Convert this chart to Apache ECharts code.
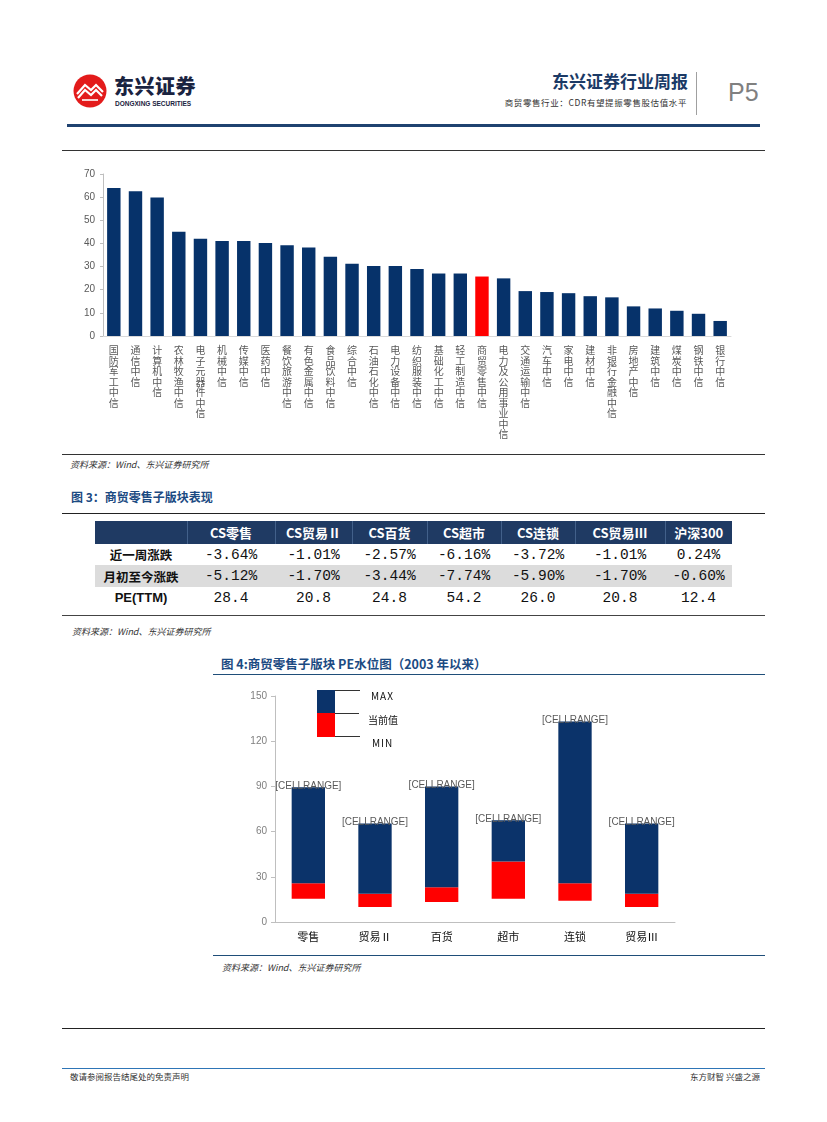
<!DOCTYPE html>
<html><head><meta charset="utf-8">
<script src="https://cdn.jsdelivr.net/npm/echarts/dist/echarts.min.js"></script>
<style>
body{margin:0;width:827px;height:1122px;position:relative;background:#fff;font-family:"Noto Sans CJK SC",sans-serif;overflow:hidden;}
.a{position:absolute;white-space:nowrap;}
.src{position:absolute;font-size:9px;font-style:italic;color:#333;white-space:nowrap;}
.ttl{position:absolute;font-weight:bold;color:#1b4a82;white-space:nowrap;}
table{position:absolute;left:95px;top:521px;border-collapse:collapse;table-layout:fixed;}
td{padding:0;text-align:center;white-space:nowrap;}
tr.h td{background:#1f3a63;color:#fff;font-weight:bold;font-size:13px;height:23px;border-left:1px solid #42608a;}
tr.h td:first-child{border-left:none;}
tr.d td{font-family:"Liberation Mono",monospace;font-size:14.5px;color:#111;height:21px;}
tr.d td.lab{font-family:"Noto Sans CJK SC",sans-serif;font-weight:bold;font-size:12.5px;}
tr.g td{background:#dcdcdc;height:22px;}
</style></head>
<body>
<!-- header -->
<svg class="a" style="left:72px;top:73px" width="36" height="36" viewBox="0 0 36 36">
<circle cx="18" cy="18" r="16.5" fill="#e31b1b"/>
<path d="M5 21 L13 12 L19 17 L24 12 L31 19" stroke="#fff" stroke-width="2.2" fill="none"/>
<path d="M6 25 L13 17 L19 22 L24 17 L30 23" stroke="#fff" stroke-width="2.2" fill="none"/>
<path d="M10 27 L26 27" stroke="#fff" stroke-width="1.6"/>
</svg>
<div class="a" style="left:114px;top:74px;font-size:20px;font-weight:900;color:#1a2340;letter-spacing:0.5px;line-height:24px">东兴证券</div>
<div class="a" style="left:115px;top:100px;font-size:6.5px;font-weight:bold;color:#1a2340;font-family:'Liberation Sans',Arial,sans-serif;line-height:8px">DONGXING SECURITIES</div>
<div class="a" style="right:139px;top:70px;font-size:17px;font-weight:bold;color:#1b3a66;line-height:21px">东兴证券行业周报</div>
<div class="a" style="right:140px;top:96px;font-size:8.5px;color:#333;letter-spacing:0.6px;line-height:12px">商贸零售行业：CDR有望提振零售股估值水平</div>
<div class="a" style="left:696px;top:72px;height:43px;border-left:1px solid #a0a0a0"></div>
<div class="a" style="left:728px;top:77px;font-size:25px;color:#808080;font-family:'Liberation Sans',Arial,sans-serif;line-height:30px">P5</div>
<div class="a" style="left:67px;top:124px;width:693px;height:3px;background:#1f4270"></div>

<div class="a" style="left:62px;top:150px;width:703px;border-top:1px solid #333"></div>
<div id="c1" class="a" style="left:62px;top:160px;width:703px;height:294px"></div>
<div class="a" style="left:62px;top:454px;width:703px;border-top:1px solid #333"></div>
<div class="src" style="left:70px;top:458px">资料来源：Wind、东兴证券研究所</div>

<div class="ttl" style="left:71px;top:488px;font-size:12px">图 3：商贸零售子版块表现</div>
<div class="a" style="left:62px;top:513px;width:703px;border-top:1.5px solid #222"></div>
<table id="tb"></table>
<div class="a" style="left:62px;top:615px;width:703px;border-top:1.5px solid #444"></div>
<div class="src" style="left:72px;top:625px">资料来源：Wind、东兴证券研究所</div>

<div class="ttl" style="left:221px;top:654px;font-size:12.5px">图 4:商贸零售子版块 PE水位图（2003 年以来）</div>
<div class="a" style="left:213px;top:674px;width:552px;border-top:1px solid #1f4e79"></div>
<div id="c2" class="a" style="left:213px;top:681px;width:552px;height:274px"></div>
<!-- legend of chart 4 -->
<div class="a" style="left:317px;top:690px;width:18px;height:23px;background:#0b336a"></div>
<div class="a" style="left:317px;top:713px;width:18px;height:24px;background:#ff0000"></div>
<div class="a" style="left:335px;top:690px;width:25px;border-top:1px solid #333"></div>
<div class="a" style="left:335px;top:713px;width:24px;border-top:1px solid #333"></div>
<div class="a" style="left:335px;top:736px;width:25px;border-top:1px solid #333"></div>
<div class="a" style="left:371px;top:689px;font-size:10px;color:#111;letter-spacing:1px;line-height:13px">MAX</div>
<div class="a" style="left:368px;top:713px;font-size:10px;color:#111;line-height:13px">当前值</div>
<div class="a" style="left:372px;top:736px;font-size:10px;color:#111;letter-spacing:1px;line-height:13px">MIN</div>
<div class="a" style="left:213px;top:955px;width:552px;border-top:1.5px solid #1f4e79"></div>
<div class="src" style="left:222px;top:961px">资料来源：Wind、东兴证券研究所</div>

<div class="a" style="left:62px;top:1028px;width:703px;border-top:1.5px solid #222"></div>
<div class="a" style="left:62px;top:1068px;width:703px;border-top:1px solid #2e75b6"></div>
<div class="a" style="left:70px;top:1070px;font-size:8.5px;color:#333;line-height:12px">敬请参阅报告结尾处的免责声明</div>
<div class="a" style="right:67px;top:1070px;font-size:8.5px;color:#333;line-height:12px">东方财智 兴盛之源</div>

<script>
// ---- Chart 1 data: industry PE ----
const industryNames = ["国防军工中信","通信中信","计算机中信","农林牧渔中信","电子元器件中信","机械中信","传媒中信","医药中信","餐饮旅游中信","有色金属中信","食品饮料中信","综合中信","石油石化中信","电力设备中信","纺织服装中信","基础化工中信","轻工制造中信","商贸零售中信","电力及公用事业中信","交通运输中信","汽车中信","家电中信","建材中信","非银行金融中信","房地产中信","建筑中信","煤炭中信","钢铁中信","银行中信"];
const industryPE = [63.9,62.6,59.8,45.1,42.0,41.1,41.1,40.2,39.2,38.2,34.2,31.2,30.2,30.2,28.9,27.0,27.0,25.7,24.9,19.4,19.0,18.5,17.2,16.7,12.8,11.9,10.9,9.6,6.5];
const highlightName = "商贸零售中信";
const peTicks = [0,10,20,30,40,50,60,70];

// ---- Table data ----
const tableCols = ["CS零售","CS贸易Ⅱ","CS百货","CS超市","CS连锁","CS贸易Ⅲ","沪深300"];
const weekChange = ["-3.64%","-1.01%","-2.57%","-6.16%","-3.72%","-1.01%","0.24%"];
const monthChange = ["-5.12%","-1.70%","-3.44%","-7.74%","-5.90%","-1.70%","-0.60%"];
const peTTM = ["28.4","20.8","24.8","54.2","26.0","20.8","12.4"];
const rowLabels = ["近一周涨跌","月初至今涨跌","PE(TTM)"];

// ---- Chart 2 data: PE band ----
const subSectors = ["零售","贸易Ⅱ","百货","超市","连锁","贸易Ⅲ"];
const peMin = [15.4,9.9,13.2,15.4,14.1,9.9];
const peCurrent = [25.7,18.7,23.1,40.2,25.7,18.7];
const peMax = [89.5,65.3,90.0,67.5,133.0,65.3];
const bandLabel = "[CELLRANGE]";

// table
const colW = [92,88,77,75,74,74,90,67];
let html = '<colgroup>' + colW.map(w=>'<col style="width:'+w+'px">').join('') + '</colgroup>';
html += '<tr class="h"><td></td>' + tableCols.map(c=>'<td>'+c+'</td>').join('') + '</tr>';
const rows = [weekChange, monthChange, peTTM];
rows.forEach((r,i)=>{
  const cls = i===1 ? 'd g' : 'd';
  const labStyle = i===2 ? ' style="font-family:\'Liberation Sans\',Arial,sans-serif;font-size:13px"' : '';
  html += '<tr class="'+cls+'"><td class="lab"'+labStyle+'>'+rowLabels[i]+'</td>' + r.map(v=>'<td>'+v+'</td>').join('') + '</tr>';
});
document.getElementById('tb').innerHTML = html;

// chart 1
const c1 = echarts.init(document.getElementById('c1'));
c1.setOption({
  animation:false,
  grid:{left:41,right:34,top:14,bottom:118},
  xAxis:{type:'category',data:industryNames,
    axisLine:{lineStyle:{color:'#d9d9d9'}},axisTick:{show:false},
    axisLabel:{interval:0,margin:9,color:'#595959',fontSize:10,lineHeight:10.5,
      fontFamily:'Noto Sans CJK SC',verticalAlign:'top',
      formatter:v=>v.split('').join('\n')}},
  yAxis:{type:'value',min:peTicks[0],max:peTicks[peTicks.length-1],interval:10,
    axisLine:{show:true,lineStyle:{color:'#bfbfbf'}},axisTick:{show:true,length:3,lineStyle:{color:'#bfbfbf'}},
    splitLine:{show:false},axisLabel:{color:'#595959',fontSize:10,margin:8,fontFamily:'Liberation Sans'}},
  series:[{type:'bar',barCategoryGap:'38%',
    data:industryPE.map((v,i)=>({value:v,itemStyle:{color:industryNames[i]===highlightName?'#ff0000':'#06326a'}}))}]
});

// chart 2
const c2 = echarts.init(document.getElementById('c2'));
c2.setOption({
  animation:false,
  grid:{left:62,right:90,top:15,bottom:33},
  xAxis:{type:'category',data:subSectors,
    axisLine:{lineStyle:{color:'#bfbfbf'}},axisTick:{show:false},
    axisLabel:{color:'#111',fontSize:11,margin:9,fontFamily:'Noto Sans CJK SC'}},
  yAxis:{type:'value',min:0,max:150,interval:30,
    axisLine:{show:true,lineStyle:{color:'#bfbfbf'}},axisTick:{show:true,length:4,lineStyle:{color:'#bfbfbf'}},
    splitLine:{show:false},axisLabel:{color:'#7f7f7f',fontSize:10,margin:8,fontFamily:'Liberation Sans'}},
  series:[
    {type:'bar',stack:'pe',barWidth:'50%',itemStyle:{color:'transparent'},data:peMin,silent:true},
    {type:'bar',stack:'pe',itemStyle:{color:'#ff0000'},data:peCurrent.map((v,i)=>+(v-peMin[i]).toFixed(2))},
    {type:'bar',stack:'pe',itemStyle:{color:'#0b336a'},data:peMax.map((v,i)=>+(v-peCurrent[i]).toFixed(2)),
      label:{show:true,position:'top',distance:-4,formatter:()=>bandLabel,color:'#595959',fontSize:10,fontFamily:'Liberation Sans'}}
  ]
});
</script>
</body></html>
